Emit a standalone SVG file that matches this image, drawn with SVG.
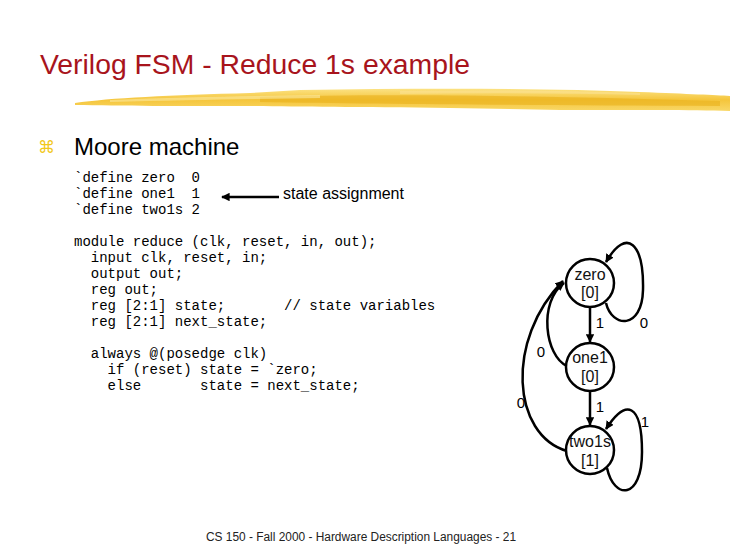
<svg xmlns="http://www.w3.org/2000/svg" width="730" height="547" viewBox="0 0 730 547">
<style>
.title{font-family:"Liberation Sans",Arial,sans-serif;font-size:27px;fill:#a8141c}
.bul{font-family:"DejaVu Sans",sans-serif;font-size:17px;fill:#f2c81a}
.h{font-family:"Liberation Sans",Arial,sans-serif;font-size:24px;fill:#000}
.code{font-family:"Liberation Mono","Courier New",monospace;font-size:14px;fill:#000;white-space:pre}
.lbl{font-family:"Liberation Sans",Arial,sans-serif;font-size:16px;fill:#000}
.nt{font-family:"Liberation Sans",Arial,sans-serif;font-size:16px;fill:#111;text-anchor:middle}
.el{font-family:"Liberation Sans",Arial,sans-serif;font-size:15px;fill:#000;text-anchor:middle}
.foot{font-family:"Liberation Sans",Arial,sans-serif;font-size:12px;fill:#222}
.node{fill:#fff;stroke:#000;stroke-width:2.5}
.edge{fill:none;stroke:#000;stroke-width:2.5}
</style>
<defs>
<marker id="ah" viewBox="0 0 10 10" refX="9" refY="5" markerWidth="3.4" markerHeight="3.4" orient="auto" markerUnits="strokeWidth">
<path d="M0,0 L10,5 L0,10 Z" fill="#000"/>
</marker>
<linearGradient id="brush" x1="0" y1="0" x2="0" y2="1">
<stop offset="0" stop-color="#fbe07a"/>
<stop offset="0.5" stop-color="#f4c02a"/>
<stop offset="1" stop-color="#f8d45a"/>
</linearGradient>
</defs>
<rect width="730" height="547" fill="#fff"/>
<text class="title" x="40" y="74" textLength="430" lengthAdjust="spacingAndGlyphs">Verilog FSM - Reduce 1s example</text>
<g id="brushstroke">
<path d="M75,103 C110,98 170,95 250,93 L300,90 C420,88 550,88 640,92 C690,94 715,95 730,96 L730,111 C690,110 640,110 560,110 L450,108 C350,107 300,107 250,106 C180,106 120,106 75,105 Z" fill="url(#brush)" opacity="0.92"/>
<path d="M260,97 C380,94 520,95 720,101 L720,106 C520,105 380,104 260,102 Z" fill="#eab01a" opacity="0.6"/>
<path d="M110,100 C190,97 260,96 320,95 L320,98 C260,99 190,100 110,102 Z" fill="#fce9a0" opacity="0.6"/>
<path d="M400,91 C480,90 560,90 640,93 L640,95 C560,93 480,93 400,94 Z" fill="#fce49a" opacity="0.5"/>
</g>
<text class="bul" x="38" y="153">⌘</text>
<text class="h" x="74" y="155">Moore machine</text>
<g id="code">
<text class="code" x="74" y="182">`define zero  0</text>
<text class="code" x="74" y="198">`define one1  1</text>
<text class="code" x="74" y="214">`define two1s 2</text>
<text class="code" x="74" y="246">module reduce (clk, reset, in, out);</text>
<text class="code" x="74" y="262">  input clk, reset, in;</text>
<text class="code" x="74" y="278">  output out;</text>
<text class="code" x="74" y="294">  reg out;</text>
<text class="code" x="74" y="310">  reg [2:1] state;       // state variables</text>
<text class="code" x="74" y="326">  reg [2:1] next_state;</text>
<text class="code" x="74" y="358">  always @(posedge clk)</text>
<text class="code" x="74" y="374">    if (reset) state = `zero;</text>
<text class="code" x="74" y="390">    else       state = next_state;</text>
</g>
<g id="annotation">
<line class="edge" x1="279" y1="197" x2="222" y2="197" stroke-width="2" marker-end="url(#ah)"/>
<text class="lbl" x="283" y="199">state assignment</text>
</g>
<g id="connectors">
<path class="edge" d="M606,303 C612,328 642,330 643,290 C644,244 627,226 606,262" marker-end="url(#ah)"/>
<path class="edge" d="M590,308 L590,342" marker-end="url(#ah)"/>
<path class="edge" d="M567,366 C545,356 538,302 564,283" marker-end="url(#ah)"/>
<path class="edge" d="M567,451 C512,435 505,340 563,281" marker-end="url(#ah)"/>
<path class="edge" d="M590,392 L590,425" marker-end="url(#ah)"/>
<path class="edge" d="M607,468 C614,500 642,500 642,452 C642,403 626,398 606,429" marker-end="url(#ah)"/>
<text class="el" x="600" y="328">1</text>
<text class="el" x="644" y="328">0</text>
<text class="el" x="541" y="357">0</text>
<text class="el" x="521" y="408">0</text>
<text class="el" x="600" y="412">1</text>
<text class="el" x="645" y="427">1</text>
</g>
<g id="zero">
<circle class="node" cx="590" cy="283" r="24"/>
<text class="nt" x="590" y="280">zero</text>
<text class="nt" x="590" y="298">[0]</text>
</g>
<g id="one1">
<circle class="node" cx="590" cy="367" r="24"/>
<text class="nt" x="590" y="363">one1</text>
<text class="nt" x="590" y="382">[0]</text>
</g>
<g id="two1s">
<circle class="node" cx="590" cy="450" r="24"/>
<text class="nt" x="590" y="447">two1s</text>
<text class="nt" x="590" y="466">[1]</text>
</g>
<text class="foot" x="206" y="541" textLength="310" lengthAdjust="spacingAndGlyphs">CS 150 - Fall 2000 - Hardware Description Languages - 21</text>
</svg>
